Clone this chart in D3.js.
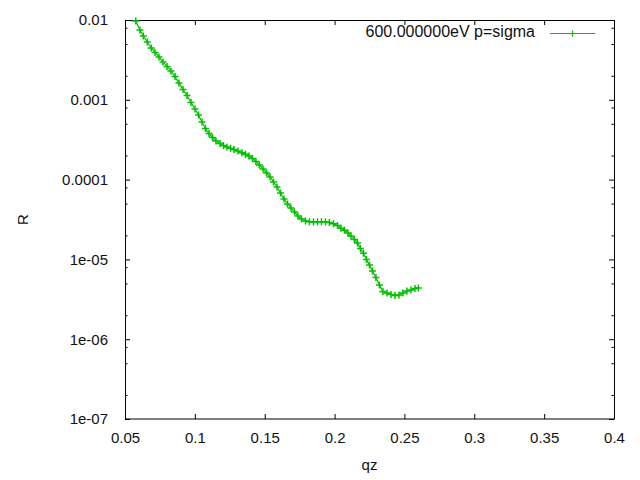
<!DOCTYPE html>
<html>
<head>
<meta charset="utf-8">
<script src="https://cdn.jsdelivr.net/npm/d3@7"></script>
<style>
  body { margin: 0; background: #fff; }
  text { font-family: "Liberation Sans", Arial, sans-serif; fill: #111; }
  .axis text { font-size: 15px; }
  .axis .domain { display: none; }
  .axis line { stroke: #000; }
</style>
</head>
<body>
<div id="chart"></div>
<script>
const qz = [
  0.0577, 0.0607, 0.0631, 0.0660, 0.0688, 0.0715, 0.0743, 0.0772, 0.0801, 0.0829,
  0.0858, 0.0886, 0.0915, 0.0944, 0.0972, 0.1001, 0.1026, 0.1051, 0.1076, 0.1101,
  0.1126, 0.1151, 0.1180, 0.1205, 0.1230, 0.1255, 0.1280, 0.1309, 0.1337, 0.1362,
  0.1387, 0.1412, 0.1437, 0.1462, 0.1488, 0.1513, 0.1538, 0.1563, 0.1588, 0.1613,
  0.1638, 0.1663, 0.1688, 0.1713, 0.1738, 0.1763, 0.1792, 0.1820, 0.1849, 0.1878,
  0.1906, 0.1935, 0.1963, 0.1992, 0.2021, 0.2046, 0.2071, 0.2096, 0.2117, 0.2142,
  0.2164, 0.2185, 0.2207, 0.2228, 0.2250, 0.2271, 0.2296, 0.2321, 0.2346, 0.2375,
  0.2404, 0.2432, 0.2461, 0.2489, 0.2518, 0.2547, 0.2575, 0.2600
];
const reflectivity = [
  9.71e-3, 7.49e-3, 6.30e-3, 5.30e-3, 4.46e-3, 3.92e-3, 3.44e-3, 2.98e-3, 2.62e-3, 2.30e-3,
  1.96e-3, 1.62e-3, 1.35e-3, 1.13e-3, 9.25e-4, 7.67e-4, 6.45e-4, 5.27e-4, 4.37e-4, 3.78e-4,
  3.37e-4, 3.05e-4, 2.83e-4, 2.68e-4, 2.56e-4, 2.47e-4, 2.38e-4, 2.28e-4, 2.17e-4, 2.08e-4,
  1.98e-4, 1.84e-4, 1.69e-4, 1.52e-4, 1.36e-4, 1.21e-4, 1.08e-4, 9.33e-5, 8.08e-5, 6.79e-5,
  5.71e-5, 4.95e-5, 4.41e-5, 3.93e-5, 3.50e-5, 3.21e-5, 3.03e-5, 2.97e-5, 2.94e-5, 2.97e-5,
  2.97e-5, 2.94e-5, 2.90e-5, 2.80e-5, 2.65e-5, 2.45e-5, 2.32e-5, 2.14e-5, 1.97e-5, 1.78e-5,
  1.61e-5, 1.37e-5, 1.19e-5, 9.97e-6, 8.51e-6, 7.16e-6, 5.93e-6, 4.78e-6, 3.96e-6, 3.80e-6,
  3.63e-6, 3.53e-6, 3.58e-6, 3.80e-6, 4.02e-6, 4.14e-6, 4.33e-6, 4.39e-6
];
const xTicks = [0.05, 0.1, 0.15, 0.2, 0.25, 0.3, 0.35, 0.4];
const xTickLabels = ["0.05", "0.1", "0.15", "0.2", "0.25", "0.3", "0.35", "0.4"];
const yTicks = [1e-2, 1e-3, 1e-4, 1e-5, 1e-6, 1e-7];
const yTickLabels = ["0.01", "0.001", "0.0001", "1e-05", "1e-06", "1e-07"];
const yMinorSteps = [2, 5, 8];
const seriesName = "600.000000eV p=sigma";
const color = "#00c000";

const margin = {top: 20, right: 26, bottom: 61, left: 125};
const width = 640 - margin.left - margin.right;
const height = 480 - margin.top - margin.bottom;

const svg = d3.select("#chart")
    .append("svg")
    .attr("width", 640)
    .attr("height", 480);

const g = svg.append("g")
    .attr("transform", `translate(${margin.left},${margin.top})`);

const xScale = d3.scaleLinear().domain([0.05, 0.4]).range([0, width]);
const yScale = d3.scaleLog().domain([1e-7, 1e-2]).range([height, 0]);

const yMinor = [];
yTicks.slice(1).forEach(d => yMinorSteps.forEach(m => yMinor.push(d * m)));

// bottom and top
g.append("g")
    .attr("class", "axis")
    .attr("transform", `translate(0,${height})`)
    .call(d3.axisBottom(xScale).tickValues(xTicks).tickSize(-5).tickPadding(13.5)
        .tickFormat((d, i) => xTickLabels[i]));

g.append("g")
    .attr("class", "axis")
    .call(d3.axisTop(xScale).tickValues(xTicks).tickSize(-5).tickFormat(""));

// left and right, major + minor
g.append("g")
    .attr("class", "axis")
    .call(d3.axisLeft(yScale).tickValues(yTicks).tickSize(-5).tickPadding(17)
        .tickFormat((d, i) => yTickLabels[i]));

g.append("g")
    .attr("class", "axis")
    .call(d3.axisLeft(yScale).tickValues(yMinor).tickSize(-2.5).tickFormat(""));

g.append("g")
    .attr("class", "axis")
    .attr("transform", `translate(${width},0)`)
    .call(d3.axisRight(yScale).tickValues(yTicks).tickSize(-5).tickFormat(""));

g.append("g")
    .attr("class", "axis")
    .attr("transform", `translate(${width},0)`)
    .call(d3.axisRight(yScale).tickValues(yMinor).tickSize(-2.5).tickFormat(""));

g.append("rect")
    .attr("x", 0.5)
    .attr("y", 0.5)
    .attr("width", width)
    .attr("height", height - 0.5)
    .attr("fill", "none")
    .attr("stroke", "#000");

// axis titles
svg.append("text")
    .attr("x", margin.left + width / 2)
    .attr("y", 470)
    .attr("text-anchor", "middle")
    .style("font-size", "15px")
    .text("qz");

svg.append("text")
    .attr("transform", `translate(28,${margin.top + height / 2}) rotate(-90)`)
    .attr("text-anchor", "middle")
    .style("font-size", "15px")
    .text("R");

// data
const points = qz.map((q, i) => ({q: q, r: reflectivity[i]}));

const lineGenerator = d3.line()
    .x(d => xScale(d.q))
    .y(d => yScale(d.r));

g.append("path")
    .datum(points)
    .attr("fill", "none")
    .attr("stroke", color)
    .attr("stroke-width", 1.2)
    .attr("d", lineGenerator);

const plus = "M-3.5,0H3.5M0,-3.5V3.5";

g.selectAll(".pt")
    .data(points)
    .enter()
    .append("path")
    .attr("class", "pt")
    .attr("transform", d => `translate(${xScale(d.q)},${yScale(d.r)})`)
    .attr("d", plus)
    .attr("fill", "none")
    .attr("stroke", color)
    .attr("stroke-width", 1.5);

// key
svg.append("text")
    .attr("x", 535)
    .attr("y", 37)
    .attr("text-anchor", "end")
    .style("font-size", "16px")
    .text(seriesName);

svg.append("line")
    .attr("x1", 550).attr("x2", 595)
    .attr("y1", 33.5).attr("y2", 33.5)
    .attr("stroke", color)
    .attr("stroke-width", 1.2);

svg.append("path")
    .attr("transform", "translate(572.5,33.5)")
    .attr("d", "M0,-3V3")
    .attr("fill", "none")
    .attr("stroke", color)
    .attr("stroke-width", 1.2);
</script>
</body>
</html>
